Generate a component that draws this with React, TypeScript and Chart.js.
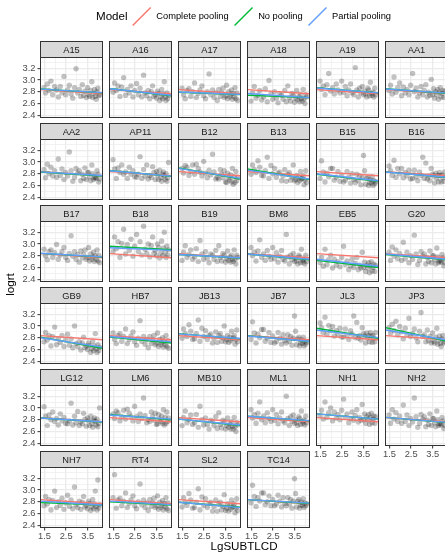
import React, { useEffect, useRef } from "react";
import { Chart, registerables } from "chart.js";

Chart.register(...registerables);

// ---------------- DATA ----------------
const subjects = ["A15","A16","A17","A18","A19","AA1","AA2","AP11","B12","B13","B15","B16","B17","B18","B19","BM8","EB5","G20","GB9","HB7","JB13","JB7","JL3","JP3","LG12","LM6","MB10","ML1","NH1","NH2","NH7","RT4","SL2","TC14"];

// word frequency (shared items across subjects)
const lgSubtlcd = [1.48,1.55,1.63,1.71,1.80,1.88,1.97,2.06,2.14,2.23,2.31,2.40,2.48,2.57,2.65,2.73,2.81,2.89,2.96,3.04,3.11,3.18,3.25,3.31,3.37,3.43,3.49,3.54,3.59,3.64,3.69,3.73,3.77,3.81,3.85,3.89,3.93,3.97,4.01,4.05];

const rtA15 = [2.87,2.78,2.93,2.82,2.98,2.75,2.89,2.83,2.71,2.89,2.78,3.06,2.75,2.83,2.91,2.76,2.69,2.87,3.19,2.78,2.84,2.72,2.92,2.74,2.81,2.70,2.87,2.75,2.72,2.82,2.97,2.70,2.77,2.84,2.72,2.67,2.80,2.86,2.73,2.75];
const rtA16 = [2.79,2.95,2.82,2.90,2.72,2.88,3.04,2.74,2.84,2.78,2.90,2.71,2.82,2.94,2.75,2.86,2.71,3.08,2.78,2.73,2.82,2.68,2.80,2.90,2.72,2.75,2.69,2.81,2.77,2.65,2.71,2.84,2.68,2.76,2.97,2.71,2.65,2.78,2.68,2.74];
const rtA17 = [2.86,2.75,2.68,2.82,2.85,2.72,2.80,2.95,2.70,2.77,2.83,2.90,2.73,2.68,2.80,3.10,2.75,2.83,2.70,2.78,2.65,2.84,2.72,2.78,2.86,2.70,2.73,2.91,2.68,2.80,2.71,2.75,2.83,2.67,2.77,2.71,2.87,2.68,2.78,2.65];
const rtA18 = [2.64,2.78,2.89,2.69,2.74,2.82,2.66,2.71,2.85,2.63,2.99,2.76,2.67,2.80,2.69,2.61,2.76,2.74,2.67,2.82,2.63,2.90,2.70,2.64,2.77,2.74,2.62,2.69,2.82,2.66,2.72,2.63,2.75,2.68,2.64,2.84,2.68,2.60,2.75,2.71];
const rtA19 = [2.98,2.84,2.90,2.75,2.92,3.11,2.81,2.87,2.76,2.93,2.83,2.78,2.98,2.79,2.89,2.73,2.83,2.93,2.78,2.75,3.21,2.83,2.71,2.86,2.78,2.89,2.75,2.81,2.76,2.71,2.86,2.83,2.73,2.96,2.77,2.74,2.79,2.71,2.86,2.75];
const rtAA1 = [2.82,2.91,2.76,3.05,2.79,2.87,2.95,2.73,2.88,2.78,2.84,2.75,2.91,3.11,2.80,2.86,2.71,2.78,2.89,2.75,2.82,2.92,2.71,2.79,2.74,3.01,2.75,2.85,2.69,2.80,2.75,2.84,2.67,2.79,2.87,2.71,2.77,2.82,2.70,2.81];
const rtAA2 = [2.87,2.73,2.96,2.80,2.91,2.76,2.85,2.74,3.05,2.77,2.88,2.70,2.82,2.76,3.17,2.85,2.67,2.74,2.89,2.81,2.85,2.68,2.79,2.72,2.90,2.70,2.82,2.82,2.75,2.68,2.95,2.80,2.70,2.73,2.74,2.72,2.85,2.79,2.66,2.71];
const rtAP11 = [3.04,2.88,2.72,2.90,2.82,2.95,2.79,2.83,2.72,2.91,2.79,2.85,2.75,2.74,2.79,3.09,2.72,2.87,2.76,2.95,2.71,2.77,2.74,2.92,2.82,2.70,2.84,2.78,2.70,2.86,2.73,2.67,2.79,2.83,2.76,2.70,2.80,2.67,2.73,2.99];
const rtB12 = [2.89,2.81,2.94,2.91,2.77,2.84,2.95,2.79,2.96,2.89,2.83,2.76,3.01,2.81,2.73,2.86,2.78,3.13,2.83,2.71,2.74,2.71,2.87,2.79,2.73,2.85,2.66,2.65,2.81,2.73,2.69,2.78,2.66,2.89,2.62,2.75,2.65,2.84,2.68,2.74];
const rtB13 = [2.79,2.95,2.87,2.82,3.02,2.91,2.77,2.76,2.85,3.08,2.72,2.94,2.80,2.89,2.74,2.81,2.83,2.68,2.76,2.87,2.67,2.79,2.82,2.69,2.75,2.95,2.68,2.70,2.77,2.65,2.74,2.68,2.84,2.71,2.72,2.76,2.61,2.69,2.85,2.65];
const rtB15 = [2.72,3.02,2.83,2.66,2.81,2.75,2.89,2.89,2.69,2.74,2.84,2.67,2.78,2.66,2.69,2.84,2.74,2.64,2.80,2.70,2.65,2.79,2.68,2.76,2.61,2.73,3.11,2.85,2.62,2.72,2.75,2.60,2.65,2.70,2.64,2.75,2.60,2.68,2.63,2.66];
const rtB16 = [2.93,2.85,2.77,3.03,2.74,2.89,2.80,2.89,2.73,2.82,2.76,2.86,2.71,2.72,2.86,2.75,2.68,2.83,2.77,3.08,2.72,2.98,2.71,2.76,2.68,2.89,2.79,2.76,2.64,2.81,2.72,2.77,2.66,2.82,2.77,2.66,2.78,2.73,2.67,2.83];
const rtB17 = [2.91,2.80,2.73,2.87,2.90,2.77,2.85,2.99,2.74,2.81,2.87,2.94,2.77,2.72,2.84,3.14,2.79,2.87,2.74,2.82,2.69,2.88,2.76,2.82,2.90,2.74,2.77,2.94,2.71,2.83,2.74,2.78,2.86,2.70,2.80,2.74,2.90,2.71,2.81,2.68];
const rtB18 = [2.87,3.12,2.92,3.04,2.77,3.01,3.25,2.83,2.99,2.89,3.08,2.79,2.96,3.16,2.87,3.04,2.81,3.30,2.91,2.84,3.00,2.78,2.97,3.12,2.84,2.89,2.80,3.00,2.94,2.76,2.85,3.05,2.80,2.93,3.20,2.86,2.77,2.96,2.81,2.90];
const rtB19 = [2.72,2.86,2.97,2.77,2.82,2.90,2.74,2.78,2.92,2.70,3.06,2.83,2.74,2.87,2.76,2.68,2.83,2.81,2.74,2.89,2.70,2.97,2.77,2.71,2.84,2.81,2.69,2.75,2.88,2.72,2.78,2.69,2.81,2.74,2.70,2.90,2.74,2.66,2.81,2.77];
const rtBM8 = [2.94,2.80,2.86,2.71,2.88,3.07,2.77,2.83,2.72,2.89,2.79,2.74,2.94,2.75,2.85,2.69,2.79,2.89,2.74,2.71,3.16,2.78,2.66,2.81,2.73,2.84,2.70,2.76,2.71,2.66,2.81,2.78,2.68,2.91,2.72,2.69,2.74,2.66,2.81,2.70];
const rtEB5 = [2.68,2.77,2.62,2.91,2.65,2.73,2.81,2.59,2.74,2.64,2.70,2.61,2.77,2.96,2.65,2.71,2.56,2.63,2.74,2.60,2.67,2.77,2.56,2.64,2.59,2.86,2.60,2.69,2.53,2.64,2.59,2.68,2.51,2.63,2.70,2.54,2.60,2.65,2.53,2.64];
const rtG20 = [2.86,2.72,2.95,2.79,2.90,2.75,2.84,2.72,3.03,2.75,2.86,2.68,2.80,2.74,3.15,2.83,2.65,2.72,2.87,2.79,2.83,2.66,2.77,2.70,2.88,2.68,2.80,2.80,2.73,2.66,2.93,2.78,2.68,2.71,2.71,2.69,2.82,2.76,2.63,2.68];
const rtGB9 = [2.73,2.89,2.76,2.84,2.66,2.82,2.98,2.68,2.78,2.72,2.84,2.65,2.76,2.86,2.67,2.78,2.63,3.00,2.70,2.65,2.73,2.59,2.71,2.81,2.63,2.66,2.60,2.71,2.67,2.55,2.61,2.74,2.58,2.66,2.87,2.61,2.55,2.68,2.58,2.64];
const rtHB7 = [2.88,2.77,2.70,2.84,2.87,2.74,2.82,2.95,2.70,2.77,2.83,2.90,2.73,2.67,2.79,3.09,2.74,2.82,2.69,2.77,2.63,2.82,2.70,2.76,2.84,2.68,2.71,2.88,2.65,2.77,2.68,2.72,2.80,2.64,2.74,2.68,2.84,2.65,2.75,2.62];
const rtJB13 = [2.79,2.95,2.87,2.82,3.02,2.91,2.77,2.78,2.87,3.10,2.74,2.96,2.82,2.92,2.77,2.84,2.86,2.71,2.79,2.90,2.72,2.84,2.87,2.74,2.80,3.00,2.73,2.77,2.84,2.72,2.81,2.75,2.91,2.78,2.80,2.84,2.69,2.77,2.93,2.73];
const rtJB7 = [2.77,3.07,2.88,2.71,2.86,2.80,2.94,2.94,2.74,2.79,2.89,2.72,2.83,2.71,2.74,2.89,2.79,2.69,2.85,2.75,2.71,2.85,2.74,2.82,2.67,2.79,3.17,2.91,2.68,2.78,2.81,2.66,2.71,2.76,2.70,2.81,2.66,2.74,2.69,2.72];
const rtJL3 = [3.05,2.97,2.89,3.15,2.86,3.01,2.92,2.99,2.83,2.92,2.86,2.96,2.81,2.81,2.95,2.84,2.77,2.92,2.86,3.17,2.80,3.06,2.79,2.84,2.76,2.97,2.87,2.83,2.71,2.88,2.79,2.84,2.73,2.89,2.83,2.72,2.84,2.79,2.73,2.89];
const rtJP3 = [2.97,2.88,3.03,2.92,3.08,2.85,2.99,2.90,2.78,2.96,2.85,3.13,2.82,2.87,2.95,2.80,2.73,2.91,3.23,2.82,2.85,2.73,2.93,2.75,2.82,2.71,2.88,2.74,2.71,2.81,2.96,2.69,2.76,2.83,2.70,2.65,2.78,2.84,2.71,2.73];
const rtLG12 = [3.02,2.86,2.70,2.88,2.80,2.93,2.77,2.82,2.71,2.90,2.78,2.84,2.74,2.73,2.78,3.08,2.71,2.86,2.75,2.94,2.70,2.76,2.73,2.91,2.81,2.69,2.83,2.78,2.70,2.86,2.73,2.67,2.79,2.83,2.77,2.71,2.81,2.68,2.74,3.00];
const rtLM6 = [2.90,2.82,2.95,2.92,2.78,2.85,2.96,2.81,2.98,2.91,2.85,2.78,3.03,2.85,2.77,2.90,2.82,3.17,2.87,2.75,2.80,2.77,2.93,2.85,2.79,2.91,2.72,2.73,2.89,2.81,2.77,2.86,2.74,2.97,2.71,2.84,2.74,2.93,2.77,2.83];
const rtMB10 = [2.70,2.84,2.95,2.75,2.80,2.88,2.72,2.75,2.89,2.67,3.03,2.80,2.71,2.83,2.72,2.64,2.79,2.77,2.70,2.85,2.65,2.92,2.72,2.66,2.79,2.76,2.64,2.70,2.83,2.67,2.73,2.64,2.76,2.69,2.64,2.84,2.68,2.60,2.75,2.71];
const rtML1 = [2.97,2.83,2.89,2.74,2.91,3.10,2.80,2.86,2.75,2.92,2.82,2.77,2.97,2.79,2.89,2.73,2.83,2.93,2.78,2.75,3.20,2.82,2.70,2.85,2.77,2.88,2.74,2.80,2.75,2.70,2.85,2.82,2.72,2.95,2.77,2.74,2.79,2.71,2.86,2.75];
const rtNH1 = [2.87,2.96,2.81,3.10,2.84,2.92,3.00,2.78,2.93,2.83,2.89,2.80,2.96,3.15,2.84,2.90,2.75,2.82,2.93,2.79,2.87,2.97,2.76,2.84,2.79,3.06,2.80,2.90,2.74,2.85,2.80,2.89,2.72,2.84,2.91,2.75,2.81,2.86,2.74,2.85];
const rtNH2 = [2.88,2.74,2.97,2.81,2.92,2.77,2.86,2.74,3.05,2.77,2.88,2.70,2.82,2.76,3.17,2.85,2.67,2.74,2.89,2.81,2.85,2.68,2.79,2.72,2.90,2.70,2.82,2.82,2.75,2.68,2.95,2.80,2.70,2.73,2.73,2.71,2.84,2.78,2.65,2.70];
const rtNH7 = [2.73,2.89,2.76,2.84,2.66,2.82,2.98,2.70,2.80,2.74,2.86,2.67,2.78,2.91,2.72,2.83,2.68,3.05,2.75,2.70,2.81,2.67,2.79,2.89,2.71,2.74,2.68,2.81,2.77,2.65,2.71,2.84,2.68,2.76,2.98,2.72,2.66,3.17,2.69,2.75];
const rtRT4 = [2.87,3.26,2.69,2.83,2.86,2.73,2.81,2.95,2.70,2.77,2.83,2.90,2.73,2.68,2.80,3.10,2.75,2.83,2.70,2.78,2.65,2.84,2.72,2.78,2.86,2.70,2.73,2.90,2.67,2.79,2.70,2.74,2.82,2.66,2.77,2.71,2.87,2.68,2.78,2.65];
const rtSL2 = [2.71,2.87,2.79,2.74,2.94,2.83,2.69,2.70,2.79,3.02,2.66,2.88,2.74,2.85,2.70,2.77,2.79,2.64,2.72,2.83,2.64,2.76,2.79,2.66,2.72,2.92,2.65,2.69,2.76,2.64,2.73,2.67,2.83,2.70,2.72,2.76,2.61,2.69,2.85,2.65];
const rtTC14 = [2.78,3.08,2.89,2.72,2.87,2.81,2.95,2.95,2.75,2.80,2.90,2.73,2.84,2.73,2.76,2.91,2.81,2.71,2.87,2.77,2.73,2.87,2.76,2.84,2.69,2.81,3.19,2.94,2.71,2.81,2.84,2.69,2.74,2.79,2.74,2.85,2.70,2.78,2.73,2.76];

const logrt = [rtA15,rtA16,rtA17,rtA18,rtA19,rtAA1,rtAA2,rtAP11,rtB12,rtB13,rtB15,rtB16,rtB17,rtB18,rtB19,rtBM8,rtEB5,rtG20,rtGB9,rtHB7,rtJB13,rtJB7,rtJL3,rtJP3,rtLG12,rtLM6,rtMB10,rtML1,rtNH1,rtNH2,rtNH7,rtRT4,rtSL2,rtTC14];

const completePoolingIntercept = 2.867;
const completePoolingSlope = -0.0244;
const noPoolingIntercept = [2.875,2.912,2.808,2.758,2.911,2.887,2.862,2.901,2.987,2.963,2.845,2.874,2.870,2.988,2.848,2.876,2.775,2.861,2.897,2.856,2.911,2.881,3.038,3.076,2.862,2.931,2.860,2.897,2.941,2.881,2.803,2.825,2.829,2.865];
const noPoolingSlope = [-0.0227,-0.0436,-0.0139,-0.0139,-0.0314,-0.0279,-0.0244,-0.0349,-0.0662,-0.0628,-0.0418,-0.0331,-0.0227,-0.0209,-0.0209,-0.0349,-0.0418,-0.0314,-0.0662,-0.0349,-0.0314,-0.0349,-0.0593,-0.0802,-0.0244,-0.0314,-0.0384,-0.0279,-0.0314,-0.0314,-0.0139,-0.0192,-0.0296,-0.0227];
const partialPoolingIntercept = [2.872,2.900,2.813,2.802,2.901,2.877,2.858,2.891,2.968,2.929,2.855,2.871,2.868,2.956,2.845,2.871,2.795,2.871,2.873,2.861,2.902,2.871,2.990,3.008,2.860,2.912,2.856,2.894,2.941,2.879,2.840,2.838,2.831,2.863];
const partialPoolingSlope = [-0.0209,-0.0384,-0.0139,-0.0244,-0.0289,-0.0244,-0.0209,-0.0314,-0.0593,-0.0523,-0.0418,-0.0314,-0.0209,-0.0157,-0.0192,-0.0314,-0.0418,-0.0314,-0.0558,-0.0314,-0.0279,-0.0314,-0.0453,-0.0593,-0.0227,-0.0244,-0.0349,-0.0262,-0.0314,-0.0296,-0.0227,-0.0209,-0.0314,-0.0209];

const modelNames = ["Complete pooling", "No pooling", "Partial pooling"];
const modelColors = ["#F8766D", "#00BA38", "#619CFF"];

const xMajorTicks = [1.5, 2.5, 3.5];
const xMinorTicks = [2.0, 3.0, 4.0];
const yMajorTicks = [2.4, 2.6, 2.8, 3.0, 3.2];
const yMinorTicks = [2.5, 2.7, 2.9, 3.1, 3.3];

// ---------------- LAYOUT ----------------
const W = 445, H = 552;
const FONT = "'Liberation Sans', Arial, Helvetica, sans-serif";
const SMALL = 9.3, TITLE = 11.6;
const N_COL = 6;
const COL_X0 = 40.5, COL_STEP = 69, PANEL_W = 62;
const ROW_Y0 = 41.5, ROW_STEP = 82, STRIP_H = 16, PANEL_H = 60;
const X_MIN = 1.316, X_MAX = 4.184, Y_MIN = 2.361, Y_MAX = 3.382;
const AXIS_L = 40, AXIS_B = 16, PAD = 12;

function panelGeom(i: number) {
  const c = i % N_COL, r = Math.floor(i / N_COL);
  const showY = c === 0;
  const showX = i + N_COL >= subjects.length;
  const pl = COL_X0 + c * COL_STEP;
  const pt = ROW_Y0 + r * ROW_STEP + STRIP_H;
  const axL = showY ? AXIS_L : 0;
  const axB = showX ? AXIS_B : 0;
  const cx = Math.floor(pl - axL - PAD);
  const cy = Math.floor(pt - STRIP_H - PAD);
  const cw = Math.ceil(pl + PANEL_W + PAD) - cx;
  const ch = Math.ceil(pt + PANEL_H + axB + PAD) - cy;
  const padding = {
    left: pl - axL - cx,
    top: pt - cy,
    right: cx + cw - (pl + PANEL_W),
    bottom: cy + ch - (pt + PANEL_H + axB),
  };
  return { showX, showY, cx, cy, cw, ch, padding };
}

const near = (v: number, arr: number[]) => arr.some((m) => Math.abs(m - v) < 1e-6);

const facetPlugin = {
  id: "facet",
  afterDraw(chart: any, _args: any, opts: any) {
    const { ctx, chartArea: a } = chart;
    const w = a.right - a.left;
    ctx.save();
    ctx.strokeStyle = "#333333";
    ctx.lineWidth = 1;
    ctx.strokeRect(a.left, a.top, w, a.bottom - a.top);
    const top = a.top - STRIP_H;
    ctx.fillStyle = "#D9D9D9";
    ctx.fillRect(a.left, top, w, STRIP_H);
    ctx.strokeRect(a.left, top, w, STRIP_H);
    ctx.fillStyle = "#1A1A1A";
    ctx.font = `${SMALL}px ${FONT}`;
    ctx.textAlign = "center";
    ctx.textBaseline = "middle";
    ctx.fillText(opts.label, a.left + w / 2, top + STRIP_H / 2 + 0.5);
    ctx.restore();
  },
};

const framePlugin = {
  id: "frame",
  afterDraw(chart: any) {
    const ctx = chart.ctx;
    ctx.save();
    ctx.fillStyle = "#000000";
    ctx.textBaseline = "middle";
    ctx.textAlign = "left";
    ctx.font = `${TITLE}px ${FONT}`;
    ctx.fillText("Model", 96, 16.5);
    ctx.font = `${SMALL}px ${FONT}`;
    let kx = 132.7;
    modelNames.forEach((name, m) => {
      ctx.strokeStyle = modelColors[m];
      ctx.lineWidth = 1.4;
      ctx.beginPath();
      ctx.moveTo(kx, 25.5);
      ctx.lineTo(kx + 18, 7.5);
      ctx.stroke();
      const lx = kx + 23.6;
      ctx.fillStyle = "#000000";
      ctx.fillText(name, lx, 16.5);
      kx = lx + ctx.measureText(name).width + 5.9;
    });
    ctx.font = `${TITLE}px ${FONT}`;
    ctx.textAlign = "center";
    ctx.fillText("LgSUBTLCD", (COL_X0 + COL_X0 + 5 * COL_STEP + PANEL_W) / 2, 546.5);
    ctx.translate(11, (ROW_Y0 + ROW_Y0 + 5 * ROW_STEP + STRIP_H + PANEL_H) / 2);
    ctx.rotate(-Math.PI / 2);
    ctx.fillText("logrt", 0, 0);
    ctx.restore();
  },
};

function lineDataset(b: number, s: number, color: string, order: number) {
  return {
    type: "scatter",
    showLine: true,
    data: [
      { x: X_MIN, y: b + s * X_MIN },
      { x: X_MAX, y: b + s * X_MAX },
    ],
    borderColor: color,
    backgroundColor: color,
    borderWidth: 1.4,
    pointRadius: 0,
    order,
  };
}

function panelConfig(i: number, g: any): any {
  const tickFont = { family: FONT, size: SMALL };
  const gridColor = "#EBEBEB";
  const points = lgSubtlcd.map((x, k) => ({ x, y: logrt[i][k] }));
  return {
    type: "scatter",
    data: {
      datasets: [
        {
          data: points,
          pointRadius: 2.7,
          pointBorderWidth: 0,
          backgroundColor: "rgba(0,0,0,0.24)",
          borderColor: "rgba(0,0,0,0)",
          order: 4,
        },
        lineDataset(completePoolingIntercept, completePoolingSlope, modelColors[0], 3),
        lineDataset(noPoolingIntercept[i], noPoolingSlope[i], modelColors[1], 2),
        lineDataset(partialPoolingIntercept[i], partialPoolingSlope[i], modelColors[2], 1),
      ],
    },
    options: {
      animation: false,
      responsive: false,
      devicePixelRatio: 1,
      events: [],
      layout: { padding: g.padding },
      plugins: {
        legend: { display: false },
        tooltip: { enabled: false },
        facet: { label: subjects[i] },
      },
      scales: {
        x: {
          type: "linear",
          min: X_MIN,
          max: X_MAX,
          offset: false,
          afterBuildTicks: (s: any) => {
            s.ticks = [...xMajorTicks, ...xMinorTicks].sort((a, b) => a - b).map((v) => ({ value: v }));
          },
          afterFit: (s: any) => {
            s.height = g.showX ? AXIS_B : 0;
          },
          ticks: {
            display: g.showX,
            autoSkip: false,
            maxRotation: 0,
            padding: 0,
            font: tickFont,
            color: "#4D4D4D",
            callback: (v: number) => (near(v, xMajorTicks) ? Number(v).toFixed(1) : ""),
          },
          grid: {
            drawTicks: g.showX,
            tickLength: 3,
            tickWidth: 1,
            tickColor: (c: any) => (c.tick && near(c.tick.value, xMajorTicks) ? "#333333" : "rgba(0,0,0,0)"),
            color: gridColor,
            lineWidth: (c: any) => (c.tick && near(c.tick.value, xMajorTicks) ? 1.3 : 0.65),
          },
          border: { display: false },
        },
        y: {
          type: "linear",
          min: Y_MIN,
          max: Y_MAX,
          afterBuildTicks: (s: any) => {
            s.ticks = [...yMajorTicks, ...yMinorTicks].sort((a, b) => a - b).map((v) => ({ value: v }));
          },
          afterFit: (s: any) => {
            s.width = g.showY ? AXIS_L : 0;
          },
          ticks: {
            display: g.showY,
            autoSkip: false,
            padding: 2,
            font: tickFont,
            color: "#4D4D4D",
            callback: (v: number) => (near(v, yMajorTicks) ? Number(v).toFixed(1) : ""),
          },
          grid: {
            drawTicks: g.showY,
            tickLength: 3,
            tickWidth: 1,
            tickColor: (c: any) => (c.tick && near(c.tick.value, yMajorTicks) ? "#333333" : "rgba(0,0,0,0)"),
            color: gridColor,
            lineWidth: (c: any) => (c.tick && near(c.tick.value, yMajorTicks) ? 1.3 : 0.65),
          },
          border: { display: false },
        },
      },
    },
    plugins: [facetPlugin],
  };
}

export default function App() {
  const frameRef = useRef<HTMLCanvasElement | null>(null);
  const panelRefs = useRef<(HTMLCanvasElement | null)[]>([]);
  const geoms = subjects.map((_, i) => panelGeom(i));

  useEffect(() => {
    const charts: Chart[] = [];
    if (frameRef.current) {
      charts.push(
        new Chart(frameRef.current, {
          type: "scatter",
          data: { datasets: [] },
          options: {
            animation: false,
            responsive: false,
            devicePixelRatio: 1,
            events: [],
            plugins: { legend: { display: false }, tooltip: { enabled: false } },
            scales: { x: { display: false }, y: { display: false } },
          },
          plugins: [framePlugin],
        } as any)
      );
    }
    subjects.forEach((_, i) => {
      const cv = panelRefs.current[i];
      if (cv) charts.push(new Chart(cv, panelConfig(i, geoms[i])));
    });
    return () => charts.forEach((c) => c.destroy());
  }, []);

  return (
    <div
      style={{
        position: "fixed",
        left: 0,
        top: 0,
        width: W,
        height: H,
        overflow: "hidden",
        background: "#FFFFFF",
      }}
    >
      <canvas
        ref={frameRef}
        width={W}
        height={H}
        style={{ position: "absolute", left: 0, top: 0, width: W, height: H }}
      />
      {geoms.map((g, i) => (
        <canvas
          key={subjects[i]}
          ref={(el) => {
            panelRefs.current[i] = el;
          }}
          width={g.cw}
          height={g.ch}
          style={{ position: "absolute", left: g.cx, top: g.cy, width: g.cw, height: g.ch }}
        />
      ))}
    </div>
  );
}
